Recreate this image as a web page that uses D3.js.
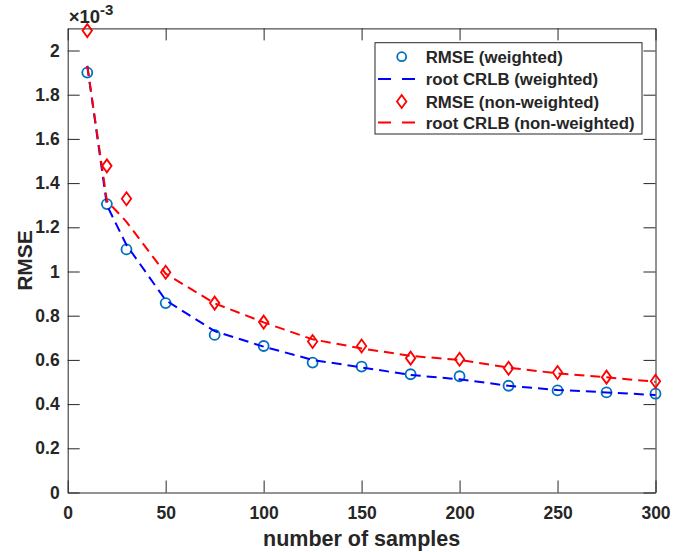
<!DOCTYPE html>
<html>
<head>
<meta charset="utf-8">
<script src="https://cdn.jsdelivr.net/npm/d3@7"></script>
<style>
	body { margin: 0; background: #fff; }
	text { font-family: "Liberation Sans", Arial, sans-serif; font-weight: bold; fill: #262626; }
	.axis path, .axis line { stroke: #262626; stroke-width: 1; }
</style>
</head>
<body>
<div id="graph"></div>
<script>
// values are in units of 1e-3
let samples = [10, 20, 30, 50, 75, 100, 125, 150, 175, 200, 225, 250, 275, 300];
let rmseWeighted    = [1.90, 1.305, 1.10, 0.857, 0.713, 0.663, 0.588, 0.570, 0.535, 0.526, 0.483, 0.462, 0.453, 0.447];
let crlbWeighted    = [1.93, 1.30, 1.12, 0.870, 0.730, 0.660, 0.600, 0.566, 0.532, 0.512, 0.483, 0.464, 0.453, 0.441];
let rmseNonWeighted = [2.09, 1.478, 1.329, 0.997, 0.857, 0.771, 0.683, 0.663, 0.608, 0.603, 0.562, 0.543, 0.522, 0.503];
let crlbNonWeighted = [1.93, 1.32, 1.225, 0.990, 0.856, 0.770, 0.693, 0.652, 0.618, 0.600, 0.565, 0.539, 0.521, 0.501];

let xTicks = [0, 50, 100, 150, 200, 250, 300];
let yTicks = [0, 0.2, 0.4, 0.6, 0.8, 1, 1.2, 1.4, 1.6, 1.8, 2];
let legendLabels = ['RMSE (weighted)', 'root CRLB (weighted)', 'RMSE (non-weighted)', 'root CRLB (non-weighted)'];

let width = 697, height = 552;
let box = { left: 67.7, right: 655.5, top: 28.4, bottom: 492.5 };

let x = d3.scaleLinear().domain([0, 300]).range([box.left, box.right]);
let y = d3.scaleLinear().domain([0, 2.1]).range([box.bottom, box.top]);

let svg = d3.select('#graph')
	.append('svg')
		.attr('width', width)
		.attr('height', height);

let tick = 12;

svg.append('g')
	.attr('class', 'axis')
	.attr('transform', 'translate(0,' + box.bottom + ')')
	.call(d3.axisBottom(x).tickValues(xTicks).tickSizeInner(-tick).tickSizeOuter(0).tickPadding(14).tickFormat(d3.format('d')));

svg.append('g')
	.attr('class', 'axis')
	.attr('transform', 'translate(0,' + box.top + ')')
	.call(d3.axisTop(x).tickValues(xTicks).tickSizeInner(-tick).tickSizeOuter(0).tickFormat(''));

svg.append('g')
	.attr('class', 'axis')
	.attr('transform', 'translate(' + box.left + ',0)')
	.call(d3.axisLeft(y).tickValues(yTicks).tickSizeInner(-tick).tickSizeOuter(0).tickPadding(8).tickFormat(d3.format('~g')));

svg.append('g')
	.attr('class', 'axis')
	.attr('transform', 'translate(' + box.right + ',0)')
	.call(d3.axisRight(y).tickValues(yTicks).tickSizeInner(-tick).tickSizeOuter(0).tickFormat(''));

svg.selectAll('.axis text')
	.attr('fill', '#262626')
	.style('font-family', '"Liberation Sans", Arial, sans-serif')
	.style('font-weight', 'bold')
	.style('font-size', '17.5px');

// exponent label
let expo = svg.append('text')
	.attr('x', box.left + 1)
	.attr('y', 23)
	.style('font-size', '18.5px');
expo.append('tspan').text('\u00d710');
expo.append('tspan').attr('dy', -8).style('font-size', '15px').text('-3');

// axis titles
svg.append('text')
	.attr('x', (box.left + box.right) / 2)
	.attr('y', 545.5)
	.attr('text-anchor', 'middle')
	.style('font-size', '21.5px')
	.text('number of samples');

svg.append('text')
	.attr('transform', 'translate(31.5,' + (box.top + box.bottom) / 2 + ') rotate(-90)')
	.attr('text-anchor', 'middle')
	.style('font-size', '21px')
	.text('RMSE');

let line = d3.line()
	.x((d, i) => x(samples[i]))
	.y((d) => y(d));

function dashed(values, color) {
	svg.append('path')
		.attr('d', line(values))
		.attr('fill', 'none')
		.attr('stroke', color)
		.attr('stroke-width', 2)
		.attr('stroke-dasharray', '10,6');
}

function circles(values) {
	svg.append('g').selectAll('circle')
		.data(values)
		.join('circle')
			.attr('cx', (d, i) => x(samples[i]))
			.attr('cy', (d) => y(d))
			.attr('r', 5)
			.attr('fill', 'none')
			.attr('stroke', '#0072BD')
			.attr('stroke-width', 1.8);
}

let diamond = 'M0,-6.5L4.7,0L0,6.5L-4.7,0Z';

function diamonds(values) {
	svg.append('g').selectAll('path')
		.data(values)
		.join('path')
			.attr('transform', (d, i) => 'translate(' + x(samples[i]) + ',' + y(d) + ')')
			.attr('d', diamond)
			.attr('fill', 'none')
			.attr('stroke', '#FF0000')
			.attr('stroke-width', 1.8);
}

circles(rmseWeighted);
dashed(crlbWeighted, '#0000FF');
diamonds(rmseNonWeighted);
dashed(crlbNonWeighted, '#FF0000');

// legend
let lg = svg.append('g');
lg.append('rect')
	.attr('x', 375).attr('y', 42.7)
	.attr('width', 267).attr('height', 91.3)
	.attr('fill', '#fff')
	.attr('stroke', '#262626')
	.attr('stroke-width', 1);

let rows = [56.7, 79, 101.5, 122.5];
legendLabels.forEach((label, i) => {
	let cy = rows[i];
	if (i === 0) {
		lg.append('circle').attr('cx', 401.7).attr('cy', cy).attr('r', 4.5)
			.attr('fill', 'none').attr('stroke', '#0072BD').attr('stroke-width', 1.8);
	} else if (i === 2) {
		lg.append('path').attr('transform', 'translate(401.7,' + cy + ')').attr('d', diamond)
			.attr('fill', 'none').attr('stroke', '#FF0000').attr('stroke-width', 1.8);
	} else {
		lg.append('line').attr('x1', 378).attr('x2', 415).attr('y1', cy).attr('y2', cy)
			.attr('stroke', i === 1 ? '#0000FF' : '#FF0000').attr('stroke-width', 2)
			.attr('stroke-dasharray', '13,11');
	}
	lg.append('text')
		.attr('x', 425.7)
		.attr('y', cy + 6)
		.style('font-size', '16.8px')
		.text(label);
});
</script>
</body>
</html>
